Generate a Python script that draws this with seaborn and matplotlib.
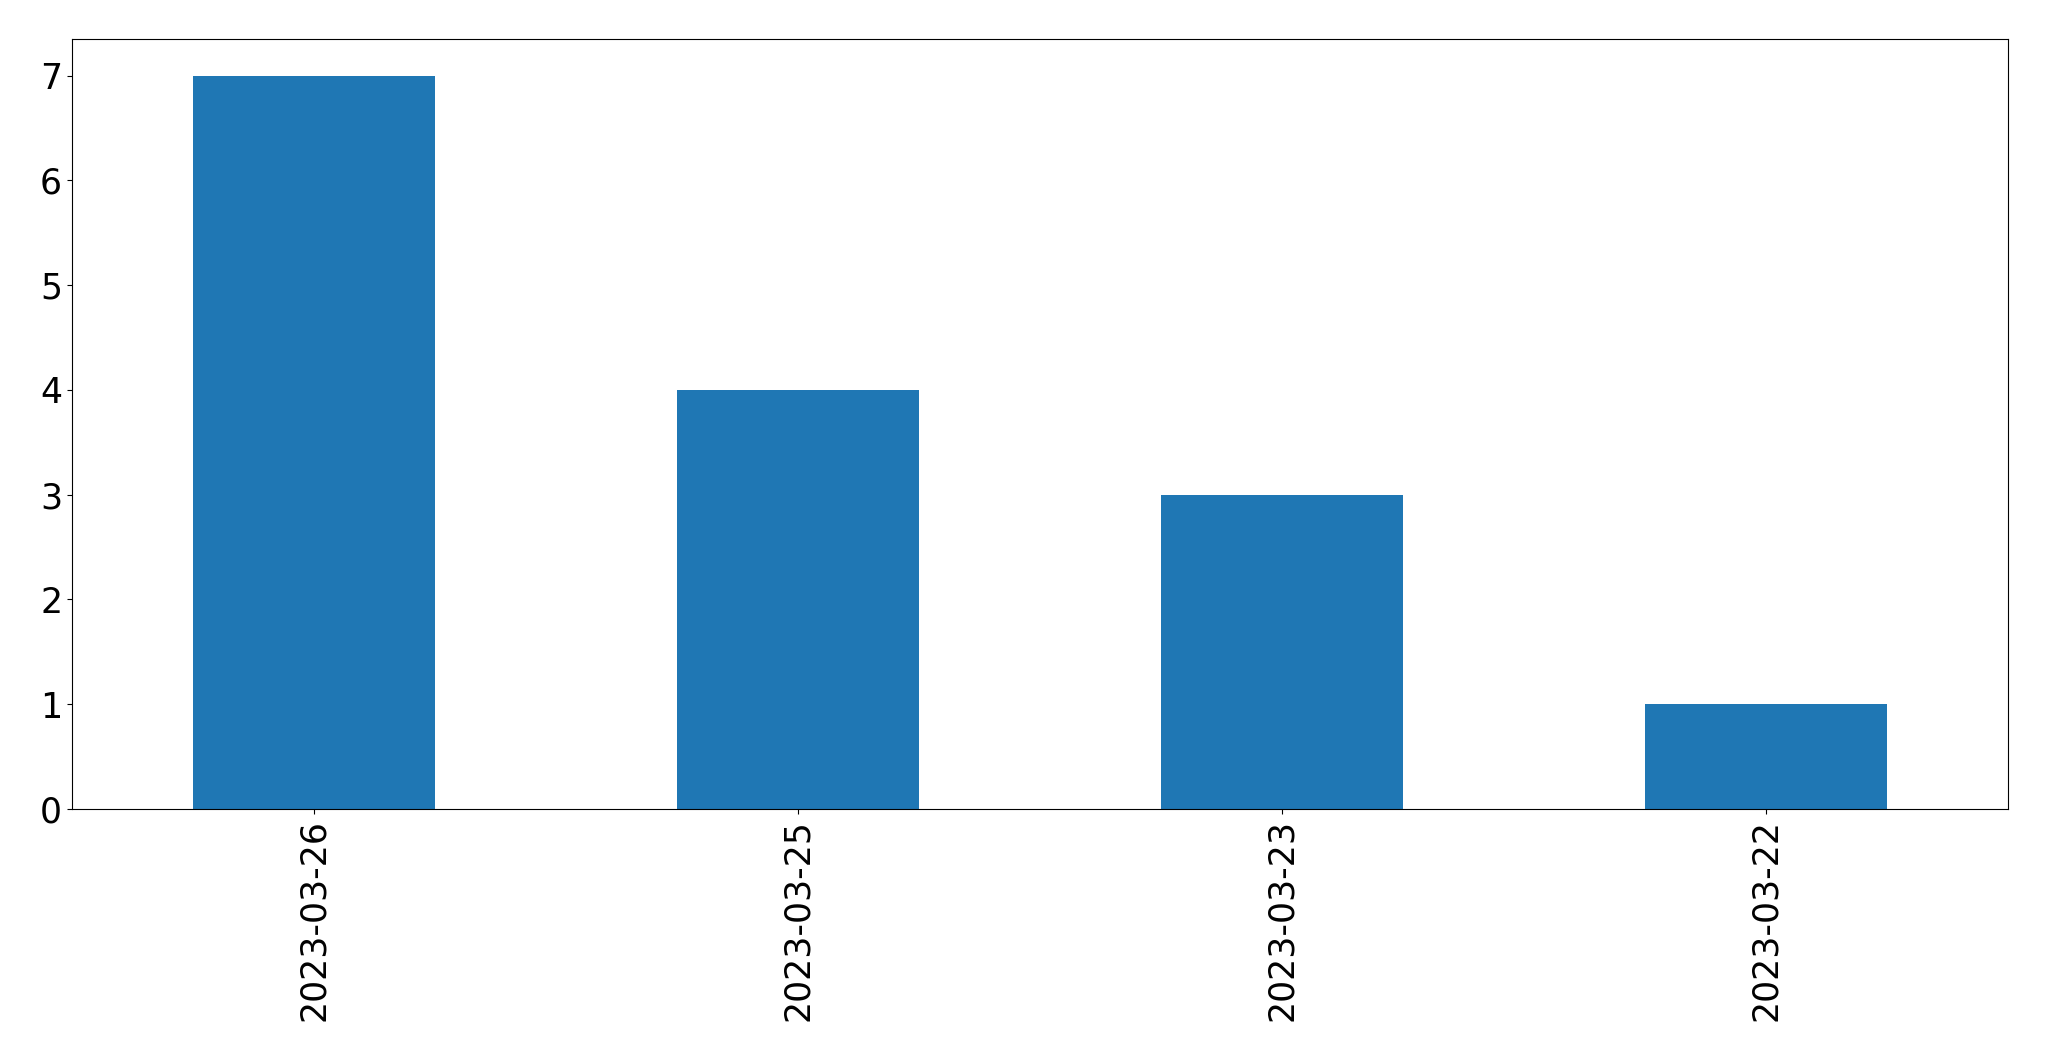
import matplotlib
matplotlib.use("Agg")
import matplotlib.pyplot as plt
import seaborn as sns
import pandas as pd

# counts per date
dates = ["2023-03-26", "2023-03-25", "2023-03-23", "2023-03-22"]
counts = [7, 4, 3, 1]

df = pd.DataFrame({"date": dates, "count": counts})

fig = plt.figure(figsize=(20.49, 10.61), dpi=100)
ax = fig.add_axes([0.0351, 0.2375, 0.9449, 0.7257])
sns.barplot(data=df, x="date", y="count", color="#1f77b4", saturation=1,
            width=0.5, ax=ax)
ax.set_xlim(-0.5, len(dates) - 0.5)
ax.set_xlabel("")
ax.set_ylabel("")
ax.tick_params(axis="both", labelsize=25)
plt.setp(ax.get_xticklabels(), rotation=90)
fig.savefig("out.png", dpi=100)
